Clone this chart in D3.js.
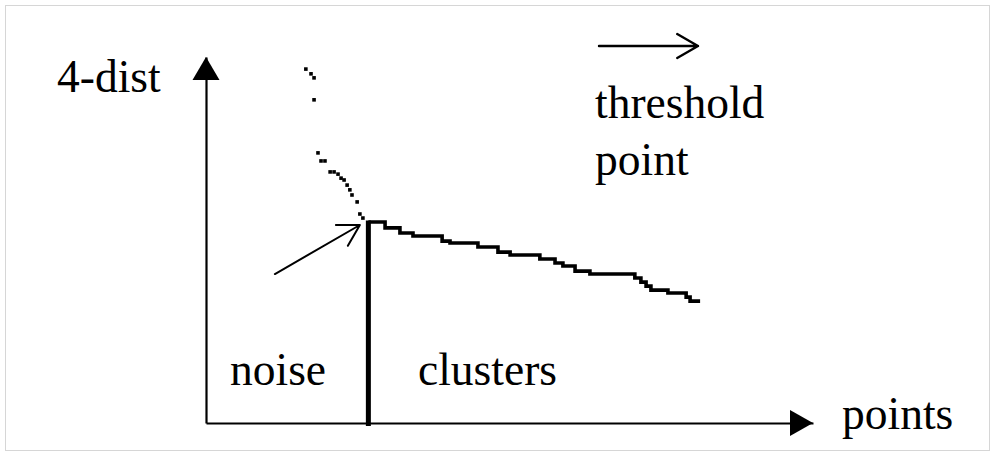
<!DOCTYPE html>
<html>
<head>
<meta charset="utf-8">
<script src="https://cdn.jsdelivr.net/npm/d3@7"></script>
<style>
  html, body { margin: 0; padding: 0; background: #fff; }
  svg { display: block; }
  text { font-family: "Liberation Serif", "Times New Roman", serif; fill: #000; }
</style>
</head>
<body>
<script>
// Sorted 4-dist values: sparse noise points, then the flat cluster staircase
const noiseIndex = [32.9, 34.6, 35.6, 35.6, 36.9, 37.9, 39.2, 40.9, 42.2, 43.5, 44.5, 45.5, 46.5, 47.4, 48.1, 49.8, 50.7, 51.7];
const noiseDist  = [9.67, 9.54, 9.43, 8.83, 7.38, 7.16, 7.16, 6.86, 6.86, 6.80, 6.69, 6.64, 6.50, 6.37, 6.23, 6.04, 5.71, 5.60];

const clusterIndex = [53.5, 59.0, 63.9, 68.2, 77.8, 80.4, 89.6, 96.2, 100.2, 110.0, 115.0, 117.6, 121.6, 126.5, 141.3, 143.3, 145.0, 146.6, 152.2, 158.2, 159.5, 162.8];
const clusterDist  = [5.49, 5.33, 5.19, 5.11, 4.97, 4.92, 4.81, 4.67, 4.59, 4.48, 4.37, 4.29, 4.15, 4.07, 3.96, 3.85, 3.74, 3.63, 3.55, 3.44, 3.33, 3.33];

// Threshold point separating noise from clusters
const thresholdIndex = 53.5;
const thresholdDist = 5.49;

// Annotation arrow pointing at the threshold: tail and tip in data units
const pointerTail = [22.7, 4.07];
const pointerTip  = [50.7, 5.41];

const labels = {
  yAxis: "4-dist",
  xAxis: "points",
  legend: ["threshold", "point"],
  noise: "noise",
  clusters: "clusters"
};

const W = 995, H = 456;
const svg = d3.select("body").append("svg").attr("width", W).attr("height", H);

// Light frame around the figure
svg.append("rect")
  .attr("x", 5.5).attr("y", 5.5)
  .attr("width", W - 11).attr("height", H - 11)
  .attr("fill", "none").attr("stroke", "#d6d6d6").attr("stroke-width", 1);

const x = d3.scaleLinear().domain([0, 200]).range([206, 813]);
const y = d3.scaleLinear().domain([0, 10]).range([423, 57]);

// Axes without ticks, just the lines
const xAxis = svg.append("g")
  .attr("transform", `translate(0,${y(0)})`)
  .call(d3.axisBottom(x).tickValues([]).tickSizeOuter(0));
const yAxis = svg.append("g")
  .attr("transform", `translate(${x(0)},0)`)
  .call(d3.axisLeft(y).tickValues([]).tickSizeOuter(0));
[xAxis, yAxis].forEach(g => g.select(".domain").attr("stroke", "#000").attr("stroke-width", 2.2));

// Solid arrowheads at the axis ends
const xEnd = x.range()[1], yEnd = y.range()[1];
svg.append("path")
  .attr("d", `M${xEnd},${y(0)} L${xEnd - 23},${y(0) - 13} L${xEnd - 23},${y(0) + 13} Z`)
  .attr("fill", "#000");
svg.append("path")
  .attr("d", `M${x(0)},${yEnd} L${x(0) - 13.5},${yEnd + 23} L${x(0) + 13.5},${yEnd + 23} Z`)
  .attr("fill", "#000");

// Noise points drawn as small dots
const noise = noiseIndex.map((v, i) => ({ i: v, d: noiseDist[i] }));
svg.append("g").selectAll("rect")
  .data(noise)
  .join("rect")
  .attr("x", d => x(d.i) - 1.8)
  .attr("y", d => y(d.d) - 1.8)
  .attr("width", 3.6).attr("height", 3.6)
  .attr("fill", "#000");

// Cluster points as a staircase line
const cluster = clusterIndex.map((v, i) => ({ i: v, d: clusterDist[i] }));
svg.append("path")
  .datum(cluster)
  .attr("fill", "none")
  .attr("stroke", "#000")
  .attr("stroke-width", 3.6)
  .attr("d", d3.line().x(d => x(d.i)).y(d => y(d.d)).curve(d3.curveStepAfter));

// Thick divider at the threshold
svg.append("line")
  .attr("x1", x(thresholdIndex)).attr("x2", x(thresholdIndex))
  .attr("y1", y(thresholdDist) - 1.5).attr("y2", y(0) + 3)
  .attr("stroke", "#000").attr("stroke-width", 5);

// Open arrow helper
function openArrow(g, x1, y1, x2, y2, len, sw) {
  const a = Math.atan2(y1 - y2, x1 - x2);
  const h = Math.PI / 6;
  g.append("path")
    .attr("d", `M${x1},${y1} L${x2},${y2}` +
      ` M${x2 + len * Math.cos(a - h)},${y2 + len * Math.sin(a - h)} L${x2},${y2}` +
      ` L${x2 + len * Math.cos(a + h)},${y2 + len * Math.sin(a + h)}`)
    .attr("fill", "none").attr("stroke", "#000").attr("stroke-width", sw)
    .attr("stroke-linecap", "round").attr("stroke-linejoin", "round");
}
openArrow(svg, x(pointerTail[0]), y(pointerTail[1]), x(pointerTip[0]), y(pointerTip[1]), 24, 2);

// Legend arrow
openArrow(svg, 599, 46, 698, 46, 24, 2.4);

// Text labels
const fs = 45.5;
svg.append("text").attr("x", 57).attr("y", 92).attr("font-size", fs).text(labels.yAxis);
svg.append("text").attr("x", 842).attr("y", 429).attr("font-size", fs).text(labels.xAxis);
svg.append("text").attr("x", 595).attr("y", 118).attr("font-size", fs).text(labels.legend[0]);
svg.append("text").attr("x", 595).attr("y", 175).attr("font-size", fs).text(labels.legend[1]);
svg.append("text").attr("x", 230).attr("y", 385).attr("font-size", fs).text(labels.noise);
svg.append("text").attr("x", 418).attr("y", 385).attr("font-size", fs).text(labels.clusters);
</script>
</body>
</html>
